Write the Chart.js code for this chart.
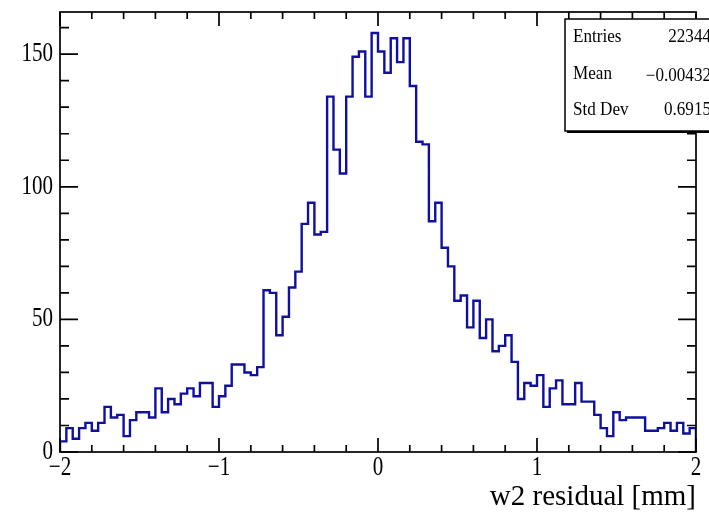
<!DOCTYPE html>
<html><head><meta charset="utf-8">
<script src="https://cdn.jsdelivr.net/npm/chart.js@4"></script>
<style>html,body{margin:0;padding:0;background:#fff}#wrap{width:709px;height:518px;position:relative}</style>
</head><body><div id="wrap"><canvas id="c" width="709" height="518"></canvas></div>
<script>
// Histogram definition
const histRange = [-2, 2];
const counts = [
  4, 9, 5, 9, 11, 8, 11, 17, 13, 14,
  6, 12, 15, 15, 13, 24, 15, 20, 18, 22,
  24, 21, 26, 26, 17, 21, 25, 33, 33, 30,
  29, 32, 61, 60, 44, 51, 62, 68, 86, 94,
  82, 83, 134, 114, 105, 134, 149, 151, 134, 158,
  151, 143, 156, 147, 156, 138, 117, 116, 87, 94,
  77, 70, 57, 59, 47, 57, 43, 50, 38, 40,
  44, 34, 20, 26, 25, 29, 17, 24, 27, 18,
  18, 26, 19, 19, 14, 9, 6, 15, 12, 13,
  13, 13, 8, 8, 9, 11, 8, 11, 7, 9
];
const xTickValues = [-2, -1, 0, 1, 2];
const xTickLabels = ['\u22122', '\u22121', '0', '1', '2'];
const yTickValues = [0, 50, 100, 150];
const yTickLabels = ['0', '50', '100', '150'];
const xMinorStep = 0.2;
const yMinorStep = 10;
const yMax = 165.9;
const statLabels = ['Entries', 'Mean', 'Std Dev'];
const statValues = ['22344', '\u22120.00432', '0.6915'];
const xTitle = 'w2 residual [mm]';

// build step points from bin edges
const nBins = counts.length;
const binW = (histRange[1] - histRange[0]) / nBins;
const pts = [{x: histRange[0], y: 0}];
counts.forEach((c, i) => pts.push({x: histRange[0] + i * binW, y: c}));
pts.push({x: histRange[1], y: counts[nBins - 1]});
pts.push({x: histRange[1], y: 0});

const SERIF = '"Liberation Serif", "Times New Roman", serif';
function drawText(ctx, txt, px, py, size, sx, align) {
  ctx.save();
  ctx.translate(px, py);
  ctx.scale(sx, 1);
  ctx.font = size + 'px ' + SERIF;
  ctx.textAlign = align;
  ctx.textBaseline = 'middle';
  ctx.fillStyle = '#000';
  ctx.fillText(txt, 0, 0);
  ctx.restore();
}

const rootFrame = {
  id: 'rootFrame',
  afterDraw(chart) {
    const {ctx, chartArea: a, scales: {x, y}} = chart;
    ctx.save();
    ctx.strokeStyle = '#000';
    ctx.lineWidth = 1.7;
    ctx.strokeRect(a.left, a.top, a.right - a.left, a.bottom - a.top);
    ctx.beginPath();
    // x ticks (bottom and top)
    for (let v = histRange[0]; v <= histRange[1] + 1e-9; v += xMinorStep) {
      const px = x.getPixelForValue(v);
      const major = Math.abs(v - Math.round(v)) < 1e-6;
      const len = major ? 14 : 7;
      ctx.moveTo(px, a.bottom); ctx.lineTo(px, a.bottom - len);
      ctx.moveTo(px, a.top); ctx.lineTo(px, a.top + len);
    }
    // y ticks (left and right)
    for (let v = 0; v <= yMax; v += yMinorStep) {
      const py = y.getPixelForValue(v);
      const major = v % 50 === 0;
      const len = major ? 18 : 9;
      ctx.moveTo(a.left, py); ctx.lineTo(a.left + len, py);
      ctx.moveTo(a.right, py); ctx.lineTo(a.right - len, py);
    }
    ctx.stroke();

    // tick labels
    yTickValues.forEach((v, i) => drawText(ctx, yTickLabels[i], 53, y.getPixelForValue(v), 27, 0.78, 'right'));
    xTickValues.forEach((v, i) => drawText(ctx, xTickLabels[i], x.getPixelForValue(v), 468, 27, 0.78, 'center'));
    // axis title
    drawText(ctx, xTitle, a.right, 497, 29, 1.0, 'right');

    // stats box
    const bx = 565, by = 19, bw = 150, bh = 112;
    ctx.fillStyle = '#fff';
    ctx.fillRect(bx, by, bw, bh);
    ctx.lineWidth = 1.5;
    ctx.strokeRect(bx, by, bw, bh);
    ctx.fillStyle = '#000';
    ctx.fillRect(bx + 2, by + bh, bw, 2);
    const rowsY = [37, 74, 110];
    statLabels.forEach((t, i) => {
      drawText(ctx, t, 573, rowsY[i], 18, 0.95, 'left');
      drawText(ctx, statValues[i], 711, rowsY[i] + (i === 1 ? 2 : 0), 18, 0.95, 'right');
    });
    ctx.restore();
  }
};

new Chart(document.getElementById('c'), {
  type: 'line',
  data: {
    datasets: [{
      data: pts,
      borderColor: 'rgb(16,16,160)',
      borderWidth: 2.4,
      pointRadius: 0,
      fill: false,
      stepped: 'before',
      tension: 0
    }]
  },
  options: {
    responsive: false,
    animation: false,
    devicePixelRatio: 1,
    layout: {padding: {left: 60, top: 12, right: 13, bottom: 66}},
    scales: {
      x: {type: 'linear', min: histRange[0], max: histRange[1], display: false},
      y: {type: 'linear', min: 0, max: yMax, display: false}
    },
    plugins: {legend: {display: false}, tooltip: {enabled: false}}
  },
  plugins: [rootFrame]
});
</script>
</body></html>
